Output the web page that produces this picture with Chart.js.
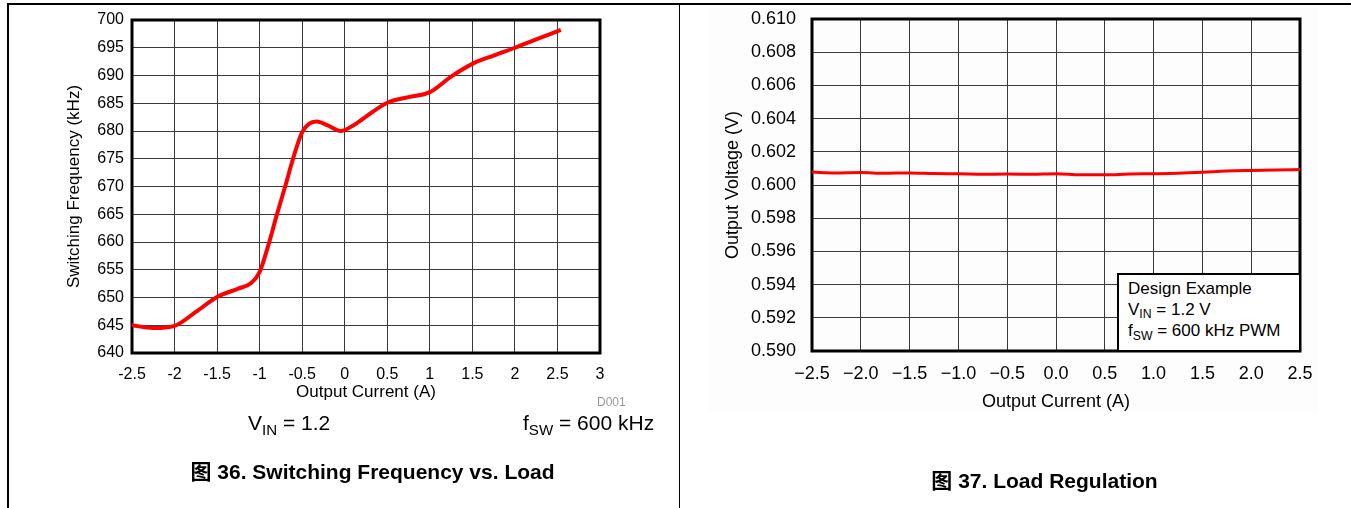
<!DOCTYPE html>
<html><head><meta charset="utf-8">
<script src="https://cdn.jsdelivr.net/npm/chart.js@4.4.1/dist/chart.umd.min.js"></script>
<style>
html,body{margin:0;padding:0;background:#fff;width:1351px;height:508px;overflow:hidden;font-family:"Liberation Sans",Arial,"Noto Sans CJK SC",sans-serif;color:#000;}
.abs{position:absolute;white-space:nowrap;}
.sub{font-size:0.72em;position:relative;top:0.32em;}
.cap{font-weight:bold;font-size:21px;line-height:21px;}
</style>
</head><body>
<div class="abs" style="left:7px;top:3px;width:1344px;height:2px;background:#000;"></div>
<div class="abs" style="left:7px;top:3px;width:2px;height:505px;background:#000;"></div>
<div class="abs" style="left:679px;top:3px;width:1px;height:505px;background:#000;"></div>
<div class="abs" style="left:708px;top:8px;width:610px;height:405px;background:#fdfdfd;"></div>

<canvas id="c1" class="abs" style="left:0;top:0;" width="680" height="508"></canvas>
<canvas id="c2" class="abs" style="left:680px;top:0;" width="671" height="508"></canvas>

<div class="abs" style="left:597px;top:396px;font-size:12px;line-height:12px;color:#9a9a9a;">D001</div>
<div class="abs" style="left:248px;top:412px;font-size:21px;line-height:21px;">V<span class="sub">IN</span> = 1.2</div>
<div class="abs" style="left:523px;top:412px;font-size:21px;line-height:21px;">f<span class="sub">SW</span> = 600 kHz</div>
<div class="abs cap" style="left:0;width:745px;text-align:center;top:461px;">图 36. Switching Frequency vs. Load</div>
<div class="abs cap" style="left:680px;width:729px;text-align:center;top:470px;">图 37. Load Regulation</div>

<div class="abs" style="left:1117px;top:273px;width:184px;height:79px;box-sizing:border-box;border:2px solid #000;background:#fff;padding:4px 0 0 9px;font-size:17px;line-height:20.5px;">
Design Example<br>V<span class="sub">IN</span> = 1.2 V<br>f<span class="sub">SW</span> = 600 kHz PWM
</div>

<script>
// ---- Data: Figure 36, switching frequency vs. load ----
const freqCurrent = [-2.5,-2.25,-2.0,-1.75,-1.5,-1.25,-1.1,-1.0,-0.9,-0.8,-0.7,-0.6,-0.5,-0.42,-0.33,-0.2,-0.05,0.1,0.25,0.5,0.75,1.0,1.25,1.5,1.75,2.0,2.25,2.54];
const freqKHz     = [645,644.5,644.9,647.4,650.1,651.6,652.6,654.6,659.3,664.8,670,675.4,679.8,681.3,681.7,681,680,681,682.6,685.1,686.1,687,689.8,692.1,693.6,695,696.5,698.2];
const freqXTicks  = {min:-2.5, max:3, step:0.5};
const freqYTicks  = {min:640, max:700, step:5};

// ---- Data: Figure 37, load regulation ----
const regCurrent = [-2.5,-2.25,-2.0,-1.75,-1.5,-1.25,-1.0,-0.75,-0.5,-0.25,0,0.25,0.5,0.75,1.0,1.25,1.5,1.75,2.0,2.25,2.5];
const regVoltage = [0.60078,0.60073,0.60075,0.60071,0.60073,0.60069,0.60068,0.60065,0.60066,0.60065,0.60068,0.60061,0.60061,0.60066,0.60068,0.60071,0.60077,0.60085,0.60088,0.6009,0.60093];
const regXTicks  = {min:-2.5, max:2.5, step:0.5};
const regYTicks  = {min:0.590, max:0.610, step:0.002};

Chart.defaults.font.family = '"Liberation Sans", Arial, sans-serif';
Chart.defaults.color = '#000';

const frameBox = {
  id:'frameBox',
  beforeDatasetsDraw(chart, args, opts){
    const {ctx, chartArea:{left,top,right,bottom}} = chart;
    ctx.save();
    ctx.strokeStyle = '#000';
    ctx.lineWidth = opts.width || 3;
    ctx.strokeRect(left, top, right-left, bottom-top);
    ctx.restore();
  }
};

function pts(xs, ys){ return xs.map((x,i)=>({x:x, y:ys[i]})); }

const gridCfg = {color:'#3a3a3a', lineWidth:1, drawTicks:false};

new Chart(document.getElementById('c1'), {
  type:'line',
  data:{datasets:[{data:pts(freqCurrent,freqKHz), borderColor:'#ff0000', borderWidth:4, pointRadius:0, cubicInterpolationMode:'monotone', fill:false}]},
  options:{
    responsive:false, animation:false, devicePixelRatio:1,
    layout:{padding:{left:64, top:20, right:80, bottom:105}},
    plugins:{legend:{display:false}, tooltip:{enabled:false}, frameBox:{width:3}},
    scales:{
      x:{type:'linear', min:freqXTicks.min, max:freqXTicks.max,
         border:{display:false}, grid:gridCfg,
         ticks:{stepSize:freqXTicks.step, autoSkip:false, maxRotation:0, padding:12, font:{size:16}, callback:v=>String(v)},
         title:{display:true, text:'Output Current (A)', font:{size:17}, padding:0},
         afterFit:s=>{s.height=50;}},
      y:{type:'linear', min:freqYTicks.min, max:freqYTicks.max,
         border:{display:false}, grid:gridCfg,
         ticks:{stepSize:freqYTicks.step, padding:8, font:{size:16}, callback:v=>String(v)},
         title:{display:true, text:'Switching Frequency (kHz)', font:{size:17}, padding:0},
         afterFit:s=>{s.width=68; s.paddingTop=10; s.paddingBottom=10;}}
    }
  },
  plugins:[frameBox]
});

const fmtX = v => (v<0 ? '\u2212' : '') + Math.abs(v).toFixed(1);

new Chart(document.getElementById('c2'), {
  type:'line',
  data:{datasets:[{data:pts(regCurrent,regVoltage), borderColor:'#ff0000', borderWidth:3, pointRadius:0, cubicInterpolationMode:'monotone', fill:false}]},
  options:{
    responsive:false, animation:false, devicePixelRatio:1,
    layout:{padding:{left:42, top:19, right:51, bottom:95}},
    plugins:{legend:{display:false}, tooltip:{enabled:false}, frameBox:{width:3}},
    scales:{
      x:{type:'linear', min:regXTicks.min, max:regXTicks.max,
         border:{display:false}, grid:gridCfg,
         ticks:{stepSize:regXTicks.step, autoSkip:false, maxRotation:0, padding:12, font:{size:18}, callback:fmtX},
         title:{display:true, text:'Output Current (A)', font:{size:18}, padding:0},
         afterFit:s=>{s.height=62;}},
      y:{type:'linear', min:regYTicks.min, max:regYTicks.max,
         border:{display:false}, grid:gridCfg,
         ticks:{stepSize:regYTicks.step, padding:16, font:{size:18}, callback:v=>v.toFixed(3)},
         title:{display:true, text:'Output Voltage (V)', font:{size:18}, padding:0},
         afterFit:s=>{s.width=90; s.paddingTop=11; s.paddingBottom=11;}}
    }
  },
  plugins:[frameBox]
});
</script>
</body></html>
